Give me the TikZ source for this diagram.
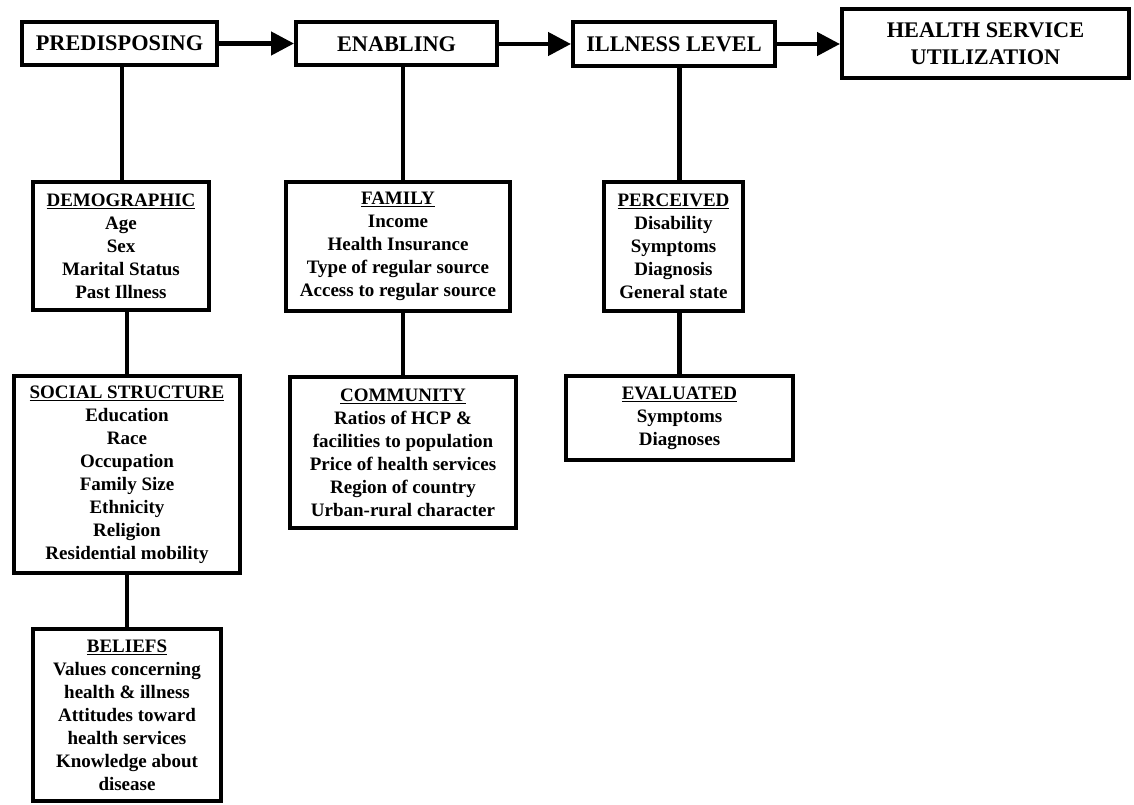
\documentclass[tikz,border=0pt]{standalone}
\usepackage{fontspec}
\setmainfont{Liberation Serif}
\usetikzlibrary{arrows.meta}
\tikzset{
  topbox/.style={draw, line width=4pt, inner sep=0pt, align=center,
    font=\fontsize{22.3}{27}\selectfont\bfseries},
  subbox/.style={draw, line width=4pt, inner sep=0pt, align=center,
    font=\fontsize{19}{23}\selectfont\bfseries},
  flow/.style={line width=4.5pt, -{Triangle[length=23pt,width=23pt]}},
  link/.style={line width=4.5pt}
}
\begin{document}
\begin{tikzpicture}[x=1pt,y=-1pt]
\useasboundingbox (0,0) rectangle (1134,805);
% top row
\node[topbox, minimum width=195pt, minimum height=43pt] (pred) at (119.5,43.5) {PREDISPOSING};
\node[topbox, minimum width=201pt, minimum height=43pt] (enab) at (396.5,44) {ENABLING};
\node[topbox, minimum width=202pt, minimum height=44pt] (ill) at (674,44) {ILLNESS LEVEL};
\node[topbox, minimum width=287pt, minimum height=69pt] (hsu) at (985.5,43.5) {HEALTH SERVICE\\UTILIZATION};
% predisposing column
\node[subbox, minimum width=176pt, minimum height=128pt] (demo) at (121,246) {\underline{DEMOGRAPHIC}\\Age\\Sex\\Marital Status\\Past Illness};
\node[subbox, minimum width=226pt, minimum height=197pt] (soc) at (127,474.5) {\underline{SOCIAL STRUCTURE}\\Education\\Race\\Occupation\\Family Size\\Ethnicity\\Religion\\Residential mobility};
\node[subbox, minimum width=188pt, minimum height=172pt] (bel) at (127,715) {\underline{BELIEFS}\\Values concerning\\health \& illness\\Attitudes toward\\health services\\Knowledge about\\disease};
% enabling column
\node[subbox, minimum width=224pt, minimum height=129pt] (fam) at (398,246.5) {\underline{FAMILY}\\Income\\Health Insurance\\Type of regular source\\Access to regular source};
\node[subbox, minimum width=226pt, minimum height=151pt] (com) at (403,452.5) {\underline{COMMUNITY}\\Ratios of HCP \&\\facilities to population\\Price of health services\\Region of country\\Urban-rural character};
% illness column
\node[subbox, minimum width=139pt, minimum height=129pt] (per) at (673.5,246.5) {\underline{PERCEIVED}\\Disability\\Symptoms\\Diagnosis\\General state};
\node[subbox, minimum width=227pt, minimum height=84pt] (eva) at (679.5,418) {\underline{EVALUATED}\\Symptoms\\Diagnoses};
% arrows
\draw[flow] (pred.east) -- (pred.east -| enab.west);
\draw[flow] (enab.east) -- (enab.east -| ill.west);
\draw[flow] (ill.east) -- (ill.east -| hsu.west);
% links
\draw[link] ([xshift=2.5pt]pred.south) -- ([xshift=2.5pt]pred.south |- demo.north);
\draw[link] (soc.north |- demo.south) -- (soc.north);
\draw[link] (soc.south) -- (bel.north);
\draw[link] (com.north |- enab.south) -- (com.north |- fam.north);
\draw[link] (com.north |- fam.south) -- (com.north);
\draw[link] (eva.north |- ill.south) -- (eva.north |- per.north);
\draw[link] (eva.north |- per.south) -- (eva.north);
\end{tikzpicture}
\end{document}
